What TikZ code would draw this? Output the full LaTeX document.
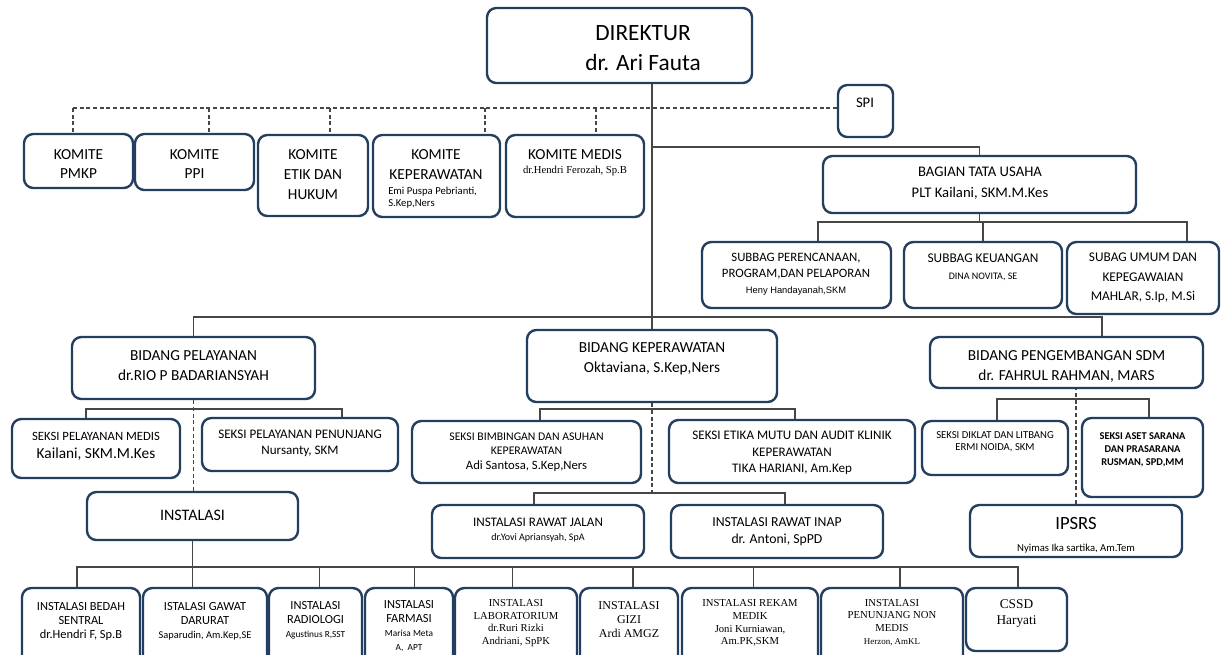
\documentclass[tikz,border=0pt]{standalone}
\usepackage{fontspec}
\setmainfont{Carlito}
\newfontfamily\timesfont{Liberation Serif}
\newfontfamily\arialfont{Liberation Sans}
\usetikzlibrary{fit}
\definecolor{boxline}{RGB}{36,62,95}
\definecolor{connline}{RGB}{70,70,70}
\newcommand{\fsz}[2]{\fontsize{#1}{#2}\selectfont}

\begin{document}
\begin{tikzpicture}[x=0.75pt,y=-0.75pt]
  \tikzstyle{orgbox} = [draw=boxline, line width=1.8pt, rounded corners=7pt, fill=white, inner sep=0pt]
  \tikzstyle{txt} = [align=center, inner sep=0pt, text=black]
  \tikzstyle{conn} = [draw=connline, line width=0.8pt]
  \tikzstyle{dashconn} = [conn, dash pattern=on 3pt off 2pt]

  \fill [white] (0,0) rectangle (1228,654);
  \useasboundingbox (0,0) rectangle (1228,654);
  \clip (0,0) rectangle (1228,654);

  % direktur, spi, komite
  \node (dir) [orgbox, fit={(487,8) (752,83)}] {};
  \node (spi) [orgbox, fit={(838,85) (893,137)}] {};
  \node (pmkp) [orgbox, fit={(24,134) (133,188)}] {};
  \node (ppi) [orgbox, fit={(135,134) (254,190)}] {};
  \node (etik) [orgbox, fit={(258,135) (368,216)}] {};
  \node (kkep) [orgbox, fit={(373,135) (500,217)}] {};
  \node (kmed) [orgbox, fit={(506,135) (644,217)}] {};

  \node (dir-t) [txt, font=\fsz{17.5}{22.5}] at (643,48) {DIREKTUR\\dr. Ari Fauta};
  \node (spi-t) [txt, font=\fsz{11}{13}] at (865,103) {SPI};
  \node (pmkp-t) [txt, font=\fsz{11.5}{14.3}] at (78.5,164) {KOMITE\\PMKP};
  \node (ppi-t) [txt, font=\fsz{11.5}{14.3}] at (194.5,164) {KOMITE\\PPI};
  \node (etik-t) [txt, font=\fsz{11.5}{15}] at (313,175) {KOMITE\\ETIK DAN\\HUKUM};
  \node (kkep-t) [txt, font=\fsz{11.5}{15}] at (436,165) {KOMITE\\KEPERAWATAN};
  \node (kkep-n) [txt, align=left, anchor=west, font=\fsz{8}{9.2}] at (388,198) {Emi Puspa Pebrianti,\\S.Kep,Ners};
  \node (kmed-t) [txt, font=\fsz{11.5}{14}] at (575,155) {KOMITE MEDIS};
  \node (kmed-n) [txt, font=\timesfont\fsz{8}{10}] at (575,171) {dr.Hendri Ferozah, Sp.B};

  % bagian tata usaha
  \node (btu) [orgbox, fit={(823,156) (1136,213)}] {};
  \node (sub1) [orgbox, fit={(702,242) (891,308)}] {};
  \node (sub2) [orgbox, fit={(904,242) (1062,308)}] {};
  \node (sub3) [orgbox, fit={(1067,242) (1219,314)}] {};

  \node (btu-t) [txt, font=\fsz{11}{15.5}] at (980,183.5) {BAGIAN TATA USAHA\\PLT Kailani, SKM.M.Kes};
  \node (sub1-t) [txt, font=\fsz{9.6}{12}] at (796,274) {SUBBAG PERENCANAAN,\\PROGRAM,DAN PELAPORAN\\{\arialfont\fsz{7}{8.5}Heny Handayanah,SKM}};
  \node (sub2-t) [txt, font=\fsz{10}{13}] at (983,267) {SUBBAG KEUANGAN\\{\fsz{7.5}{9}DINA NOVITA, SE}};
  \node (sub3-t) [txt, font=\fsz{10}{14.5}] at (1143,278) {SUBAG UMUM DAN\\KEPEGAWAIAN\\MAHLAR, S.Ip, M.Si};

  % bidang
  \node (bidpel) [orgbox, fit={(72,337) (315,399)}] {};
  \node (bidkep) [orgbox, fit={(527,330) (777,402)}] {};
  \node (bidsdm) [orgbox, fit={(930,337) (1203,388)}] {};

  \node (bidpel-t) [txt, font=\fsz{11.5}{15}] at (193.5,366) {BIDANG PELAYANAN\\dr.RIO P BADARIANSYAH};
  \node (bidkep-t) [txt, font=\fsz{11.5}{15}] at (652,359) {BIDANG KEPERAWATAN\\Oktaviana, S.Kep,Ners};
  \node (bidsdm-t) [txt, font=\fsz{11.5}{14.3}] at (1066.5,366.5) {BIDANG PENGEMBANGAN SDM\\dr. FAHRUL RAHMAN, MARS};

  % seksi
  \node (sekmed) [orgbox, fit={(12,419) (180,478)}] {};
  \node (sekpen) [orgbox, fit={(202,418) (398,471)}] {};
  \node (sekbim) [orgbox, fit={(412,421) (641,483)}] {};
  \node (seketik) [orgbox, fit={(669,420) (915,483)}] {};
  \node (diklat) [orgbox, fit={(922,421) (1068,475)}] {};
  \node (aset) [orgbox, fit={(1082,418) (1203,497)}] {};

  \node (sekmed-t) [txt, font=\fsz{9.5}{13.5}] at (96,446) {SEKSI PELAYANAN MEDIS\\{\fsz{11.5}{13}Kailani, SKM.M.Kes}};
  \node (sekpen-t) [txt, font=\fsz{9.8}{12}] at (300,443) {SEKSI PELAYANAN PENUNJANG\\Nursanty, SKM};
  \node (sekbim-t) [txt, font=\fsz{8.8}{10.8}] at (526.5,452) {SEKSI BIMBINGAN DAN ASUHAN\\KEPERAWATAN\\{\fsz{9.5}{12}Adi Santosa, S.Kep,Ners}};
  \node (seketik-t) [txt, font=\fsz{9.8}{12.3}] at (792,453) {SEKSI ETIKA MUTU DAN AUDIT KLINIK\\KEPERAWATAN\\TIKA HARIANI, Am.Kep};
  \node (diklat-t) [txt, font=\fsz{8}{9}] at (995,442) {SEKSI DIKLAT DAN LITBANG\\ERMI NOIDA, SKM};
  \node (aset-t) [txt, font=\bfseries\fsz{7.8}{9.8}] at (1142.5,450) {SEKSI ASET SARANA\\DAN PRASARANA\\RUSMAN, SPD,MM};

  % instalasi
  \node (instal) [orgbox, fit={(87,492) (298,540)}] {};
  \node (rjalan) [orgbox, fit={(432,505) (644,558)}] {};
  \node (rinap) [orgbox, fit={(671,505) (883,558)}] {};
  \node (ipsrs) [orgbox, fit={(970,505) (1182,557)}] {};

  \node (instal-t) [txt, font=\fsz{12}{14}] at (192.5,515) {INSTALASI};
  \node (rjalan-t) [txt, font=\fsz{9.8}{10.5}] at (538,530) {INSTALASI RAWAT JALAN\\{\fsz{7.5}{9}dr.Yovi Apriansyah, SpA}};
  \node (rinap-t) [txt, font=\fsz{10.3}{12.5}] at (777,531.5) {INSTALASI RAWAT INAP\\dr. Antoni, SpPD};
  \node (ipsrs-t) [txt, font=\fsz{14}{16.5}] at (1076,535) {IPSRS\\{\fsz{8}{9}Nyimas Ika sartika, Am.Tem}};

  % instalasi bawah
  \node (ibs) [orgbox, fit={(22,588) (140,670)}] {};
  \node (igd) [orgbox, fit={(143,588) (267,670)}] {};
  \node (irad) [orgbox, fit={(269,588) (362,670)}] {};
  \node (ifar) [orgbox, fit={(365,588) (453,670)}] {};
  \node (ilab) [orgbox, fit={(455,588) (577,670)}] {};
  \node (igizi) [orgbox, fit={(580,588) (678,670)}] {};
  \node (irm) [orgbox, fit={(682,588) (818,670)}] {};
  \node (ipnm) [orgbox, fit={(821,588) (963,670)}] {};
  \node (cssd) [orgbox, fit={(966,588) (1067,651)}] {};

  \node (ibs-t) [txt, font=\fsz{9.3}{10.5}] at (81,621) {INSTALASI BEDAH\\SENTRAL\\dr.Hendri F, Sp.B};
  \node (igd-t) [txt, font=\fsz{9.3}{10.5}] at (205,621) {ISTALASI GAWAT\\DARURAT\\{\fsz{7.8}{10}Saparudin, Am.Kep,SE}};
  \node (irad-t) [txt, font=\fsz{9.3}{10.5}] at (315.5,620.5) {INSTALASI\\RADIOLOGI\\{\fsz{7}{10}Agustinus R,SST}};
  \node (ifar-t) [txt, font=\fsz{9.3}{10.5}] at (409,626.5) {INSTALASI\\FARMASI\\{\fsz{7}{10}Marisa Meta}\\{\fsz{7}{9}A,~~APT}};
  \node (ilab-t) [txt, font=\timesfont\fsz{8}{9.6}] at (516,623) {INSTALASI\\LABORATORIUM\\dr.Ruri Rizki\\Andriani, SpPK};
  \node (igizi-t) [txt, font=\timesfont\fsz{9}{10.8}] at (629,619.5) {INSTALASI\\GIZI\\Ardi AMGZ};
  \node (irm-t) [txt, font=\timesfont\fsz{8}{9.6}] at (750,623) {INSTALASI REKAM\\MEDIK\\Joni Kurniawan,\\Am.PK,SKM};
  \node (ipnm-t) [txt, font=\timesfont\fsz{8}{9.6}] at (892,622.5) {INSTALASI\\PENUNJANG NON\\MEDIS\\{\fsz{6.7}{8.5}Herzon, AmKL}};
  \node (cssd-t) [txt, font=\timesfont\fsz{10}{12}] at (1016.5,614) {CSSD\\Haryati};

  % garis putus-putus komite
  \coordinate (dA) at (73,108);
  \coordinate (dB) at (209,108);
  \coordinate (dC) at (330,108);
  \coordinate (dD) at (485,108);
  \coordinate (dE) at (596,108);
  \draw [dashconn] (dA) -- (spi.west |- dA);
  \draw [dashconn] (dA) -- (dA |- pmkp.north);
  \draw [dashconn] (dB) -- (dB |- ppi.north);
  \draw [dashconn] (dC) -- (dC |- etik.north);
  \draw [dashconn] (dD) -- (dD |- kkep.north);
  \draw [dashconn] (dE) -- (dE |- kmed.north);

  % garis utama
  \draw [conn] (bidkep.north) -- (bidkep.north |- dir.south);
  \coordinate (btuJ) at (652,147);
  \draw [conn] (btuJ) -| (btu.north);
  \coordinate (sbL) at (818,222);
  \coordinate (sbR) at (1187,222);
  \draw [conn] (btu.south) -- (btu.south |- sbL);
  \draw [conn] (sbL |- sub1.north) -- (sbL) -- (sbR) -- (sbR |- sub3.north);
  \draw [conn] (sub2.north) -- (sub2.north |- sbL);

  \coordinate (bdR) at (1102,317);
  \draw [conn] (bidpel.north) |- (bdR) -- (bdR |- bidsdm.north);

  % bidang pelayanan
  \coordinate (spL) at (86,409);
  \coordinate (spR) at (342,409);
  \draw [conn] (spL |- sekmed.north) -- (spL) -- (spR) -- (spR |- sekpen.north);
  \draw [dashconn] (bidpel.south) -- (bidpel.south |- instal.north);

  % bidang keperawatan
  \coordinate (kpL) at (540,409);
  \coordinate (kpR) at (795,409);
  \draw [conn] (kpL |- sekbim.north) -- (kpL) -- (kpR) -- (kpR |- seketik.north);
  \coordinate (rjL) at (534,493);
  \coordinate (rjR) at (785,493);
  \draw [dashconn] (bidkep.south) -- (bidkep.south |- rjL);
  \draw [conn] (rjL |- rjalan.north) -- (rjL) -- (rjR) -- (rjR |- rinap.north);

  % bidang sdm
  \coordinate (sdL) at (997,399);
  \coordinate (sdR) at (1149,399);
  \draw [conn] (sdL |- diklat.north) -- (sdL) -- (sdR) -- (sdR |- aset.north);
  \draw [dashconn] (ipsrs.north) -- (ipsrs.north |- bidsdm.south);

  % instalasi bawah
  \coordinate (btL) at (77,567);
  \coordinate (btR) at (1018,567);
  \draw [conn] (instal.south) -- (instal.south |- igd.north);
  \draw [conn] (btL |- ibs.north) -- (btL) -- (btR) -- (btR |- cssd.north);
  \foreach \n/\dx in {irad/3, ifar/4, ilab/-2.5, igizi/3, irm/2.5, ipnm/6}
    \draw [conn] ([xshift=\dx pt]\n.north) -- ([xshift=\dx pt]\n.north |- btL);
\end{tikzpicture}
\end{document}
